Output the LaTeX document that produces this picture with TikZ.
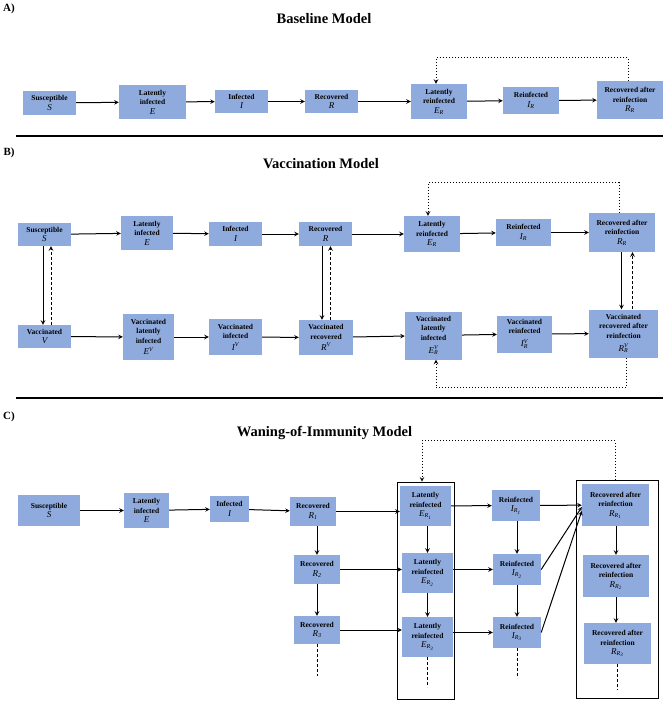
\documentclass[tikz,border=0pt]{standalone}
\usepackage{fontspec}
\setmainfont{Liberation Serif}
\usepackage{amsmath}
\definecolor{boxblue}{RGB}{143,170,220}
\newcommand{\cv}[1]{{\fontsize{9}{10}\selectfont\mdseries\itshape #1}}

\begin{document}
\begin{tikzpicture}[x=10pt, y=-10pt,
    box/.style 2 args={fill=boxblue, minimum width=#1, minimum height=#2, inner sep=1pt, align=center, font=\fontsize{7.5}{9.5}\selectfont\bfseries},
    frame/.style 2 args={draw, line width=.8pt, minimum width=#1, minimum height=#2, inner sep=0pt},
    arr/.style={-stealth, line width=1pt},
    back/.style={-stealth, line width=1pt, dash pattern=on 3pt off 2pt},
    dots/.style={-stealth, line width=1pt, dotted},
    tail/.style={line width=1pt, dash pattern=on 3pt off 2pt},
    title/.style={font=\fontsize{14.5}{16}\selectfont\bfseries},
    panel/.style={font=\fontsize{11}{12}\selectfont\bfseries},
    sep/.style={line width=1.5pt}]

                    \useasboundingbox (0,0) rectangle (66.9,70.1);

                    % A) baseline
                    \node[panel] (pa) at (0.9,0.85) {A)};
                    \node[title] (ta) at (32.4,1.9) {Baseline Model};

                    \node[box={53pt}{24pt}] (sa) at (4.95,10.3) {Susceptible\\ \cv{S}};
                    \node[box={67pt}{34pt}] (ea) at (15.25,10.2) {Latently\\ infected\\ \cv{E}};
                    \node[box={53pt}{23pt}] (ia) at (24.15,10.15) {Infected\\ \cv{I}};
                    \node[box={53pt}{23pt}] (ra) at (33.15,10.15) {Recovered\\ \cv{R}};
                    \node[box={56pt}{35pt}] (era) at (43.9,10.15) {Latently\\ reinfected\\ \cv{E$_{\textit{R}}$}};
                    \node[box={56pt}{27pt}] (ira) at (53.1,10.05) {Reinfected\\ \cv{I$_{\textit{R}}$}};
                    \node[box={66pt}{38pt}] (rra) at (63.0,10.0) {Recovered after\\ reinfection\\ \cv{R$_{\textit{R}}$}};

                    \draw[arr] (sa) -- (ea);
                    \draw[arr] (ea) -- (ia);
                    \draw[arr] (ia) -- (ra);
                    \draw[arr] (ra) -- (era);
                    \draw[arr] (era) -- (ira);
                    \draw[arr] (ira) -- (rra);
                    \draw[dots] ([xshift=-2pt]rra.north) -- ++(0,-2.3) -| ([xshift=-3pt]era.north);

                    \draw[sep] (1.6,13.6) -- (66.3,13.6);

                    % B) vaccination
                    \node[panel] (pb) at (0.9,15.3) {B)};
                    \node[title] (tb) at (32.1,16.4) {Vaccination Model};

                    \node[box={53pt}{23pt}] (sb) at (4.45,23.45) {Susceptible\\ \cv{S}};
                    \node[box={52pt}{34pt}] (eb) at (14.7,23.3) {Latently\\ infected\\ \cv{E}};
                    \node[box={53pt}{24pt}] (ib) at (23.55,23.4) {Infected\\ \cv{I}};
                    \node[box={53pt}{24pt}] (rb) at (32.55,23.4) {Recovered\\ \cv{R}};
                    \node[box={56pt}{36pt}] (erb) at (43.2,23.4) {Latently\\ reinfected\\ \cv{E$_{\textit{R}}$}};
                    \node[box={55pt}{27pt}] (irb) at (52.35,23.25) {Reinfected\\ \cv{I$_{\textit{R}}$}};
                    \node[box={66pt}{39pt}] (rrb) at (62.2,23.25) {Recovered after\\ reinfection\\ \cv{R$_{\textit{R}}$}};

                    \node[box={53pt}{23pt}] (vb) at (4.45,33.65) {Vaccinated\\ \cv{V}};
                    \node[box={51pt}{46pt}] (evb) at (14.85,33.7) {Vaccinated\\ latently\\ infected\\[2pt] \cv{E$^{\textit{V}}$}};
                    \node[box={53pt}{36pt}] (ivb) at (23.55,33.7) {Vaccinated\\ infected\\[2pt] \cv{I$^{\textit{V}}$}};
                    \node[box={54pt}{35pt}] (rvb) at (32.6,33.75) {Vaccinated\\ recovered\\[2pt] \cv{R$^{\textit{V}}$}};
                    \node[box={57pt}{48pt}] (ervb) at (43.35,33.55) {Vaccinated\\ latently\\ infected\\[3.5pt] \cv{E$_{\textit{R}}^{\textit{V}}$}};
                    \node[box={55pt}{37pt}] (irvb) at (52.45,33.4) {Vaccinated\\ reinfected\\[3.5pt] \cv{I$_{\textit{R}}^{\textit{V}}$}};
                    \node[box={69pt}{48pt}] (rrvb) at (62.35,33.35) {Vaccinated\\ recovered after\\ reinfection\\[3.5pt] \cv{R$_{\textit{R}}^{\textit{V}}$}};

                    \draw[arr] (sb) -- (eb);
                    \draw[arr] (eb) -- (ib);
                    \draw[arr] (ib) -- (rb);
                    \draw[arr] (rb) -- (erb);
                    \draw[arr] (erb) -- (irb);
                    \draw[arr] (irb) -- (rrb);
                    \draw[arr] (vb) -- (evb);
                    \draw[arr] (evb) -- (ivb);
                    \draw[arr] (ivb) -- (rvb);
                    \draw[arr] (rvb) -- (ervb);
                    \draw[arr] (ervb) -- (irvb);
                    \draw[arr] (irvb) -- (rrvb);

                    \draw[arr] ([xshift=-1.5pt]sb.south) -- ([xshift=-1.5pt]vb.north);
                    \draw[back] ([xshift=6.5pt]vb.north) -- ([xshift=6.5pt]sb.south);
                    \draw[arr] ([xshift=-3.5pt]rb.south) -- ([xshift=-3.5pt]rb.south |- rvb.north);
                    \draw[back] ([xshift=4.5pt]rvb.north) -- ([xshift=4.5pt]rvb.north |- rb.south);
                    \draw[arr] ([xshift=-0.5pt]rrb.south) -- ([xshift=-0.5pt]rrb.south |- rrvb.north);
                    \draw[back] ([xshift=10.5pt]rrb.south |- rrvb.north) -- ([xshift=10.5pt]rrb.south);

                    \draw[dots] ([xshift=-3pt]rrb.north) -- ++(0,-3.0) -| ([xshift=-4pt]erb.north);
                    \draw[dots] ([xshift=2.5pt]rrvb.south) -- ++(0,3.0) -| ([xshift=2.5pt]ervb.south);

                    \draw[sep] (1.6,39.8) -- (66.3,39.8);

                    % C) waning of immunity
                    \node[panel] (pc) at (0.9,41.7) {C)};
                    \node[title] (tc) at (32.45,43.3) {Waning-of-Immunity Model};

                    \node[frame={57pt}{217pt}] (fr1) at (42.55,59.05) {};
                    \node[frame={82pt}{218pt}] (fr2) at (61.7,58.9) {};

                    \node[box={62pt}{31pt}] (sc) at (4.9,51.05) {Susceptible\\ \cv{S}};
                    \node[box={45pt}{35pt}] (ec) at (14.65,51.05) {Latently\\ infected\\ \cv{E}};
                    \node[box={39pt}{26pt}] (ic) at (22.95,50.9) {Infected\\ \cv{I}};
                    \node[box={46pt}{29pt}] (r1) at (31.3,51.15) {Recovered\\ \cv{R$_{\text{1}}$}};
                    \node[box={46pt}{29pt}] (r2) at (31.7,56.95) {Recovered\\ \cv{R$_{\text{2}}$}};
                    \node[box={46pt}{28pt}] (r3) at (31.7,63.0) {Recovered\\ \cv{R$_{\text{3}}$}};
                    \node[box={51pt}{40pt}] (er1) at (42.55,50.6) {Latently\\ reinfected\\ \cv{E$_{\textit{R}_{\text{1}}}$}};
                    \node[box={51pt}{40pt}] (er2) at (42.75,57.3) {Latently\\ reinfected\\ \cv{E$_{\textit{R}_{\text{2}}}$}};
                    \node[box={51pt}{40pt}] (er3) at (42.75,63.7) {Latently\\ reinfected\\ \cv{E$_{\textit{R}_{\text{3}}}$}};
                    \node[box={48pt}{31pt}] (ir1) at (51.6,50.55) {Reinfected\\ \cv{I$_{\textit{R}_{\text{1}}}$}};
                    \node[box={48pt}{31pt}] (ir2) at (51.7,56.95) {Reinfected\\ \cv{I$_{\textit{R}_{\text{2}}}$}};
                    \node[box={48pt}{31pt}] (ir3) at (51.7,63.25) {Reinfected\\ \cv{I$_{\textit{R}_{\text{3}}}$}};
                    \node[box={67pt}{42pt}] (rr1) at (61.55,50.5) {Recovered after\\ reinfection\\ \cv{R$_{\textit{R}_{\text{1}}}$}};
                    \node[box={66pt}{42pt}] (rr2) at (61.6,57.6) {Recovered after\\ reinfection\\ \cv{R$_{\textit{R}_{\text{2}}}$}};
                    \node[box={67pt}{41pt}] (rr3) at (61.75,64.35) {Recovered after\\ reinfection\\ \cv{R$_{\textit{R}_{\text{3}}}$}};

                    \draw[arr] (sc) -- (ec);
                    \draw[arr] (ec) -- (ic);
                    \draw[arr] (ic) -- (r1);
                    \draw[arr] (r1.east) -- (r1.east -| er1.west);
                    \draw[arr] (er1) -- (ir1);
                    \draw[arr] (ir1) -- (rr1);
                    \draw[arr] (r2.east) -- (r2.east -| er2.west);
                    \draw[arr] (er2.east |- ir2.west) -- (ir2.west);
                    \draw[arr] (ir2.east) -- ([yshift=-2pt]rr1.west);
                    \draw[arr] (r3.east) -- (r3.east -| er3.west);
                    \draw[arr] (er3.east |- ir3.west) -- (ir3.west);
                    \draw[arr] (ir3.east) -- ([yshift=-6pt]rr1.west);

                    \draw[arr] (r1.south -| r2) -- (r2.north);
                    \draw[arr] (r2) -- (r3);
                    \draw[arr] (er1.south -| er2) -- (er2.north);
                    \draw[arr] (er2) -- (er3);
                    \draw[arr] (ir1.south -| ir2) -- (ir2.north);
                    \draw[arr] (ir2) -- (ir3);
                    \draw[arr] (rr1.south -| rr2) -- (rr2.north);
                    \draw[arr] (rr2.south) -- (rr2.south |- rr3.north);

                    \draw[tail] (r3.south) -- ++(0,3.2);
                    \draw[tail] (er3.south) -- ++(0,3.0);
                    \draw[tail] (ir3.south) -- ++(0,3.0);
                    \draw[tail] (rr3.south) -- ++(0,2.6);

                    \draw[dots] ([xshift=-2pt]fr2.north) -- ++(0,-3.9) -| ([xshift=-3.5pt]fr1.north);
                \end{tikzpicture}
\end{document}
